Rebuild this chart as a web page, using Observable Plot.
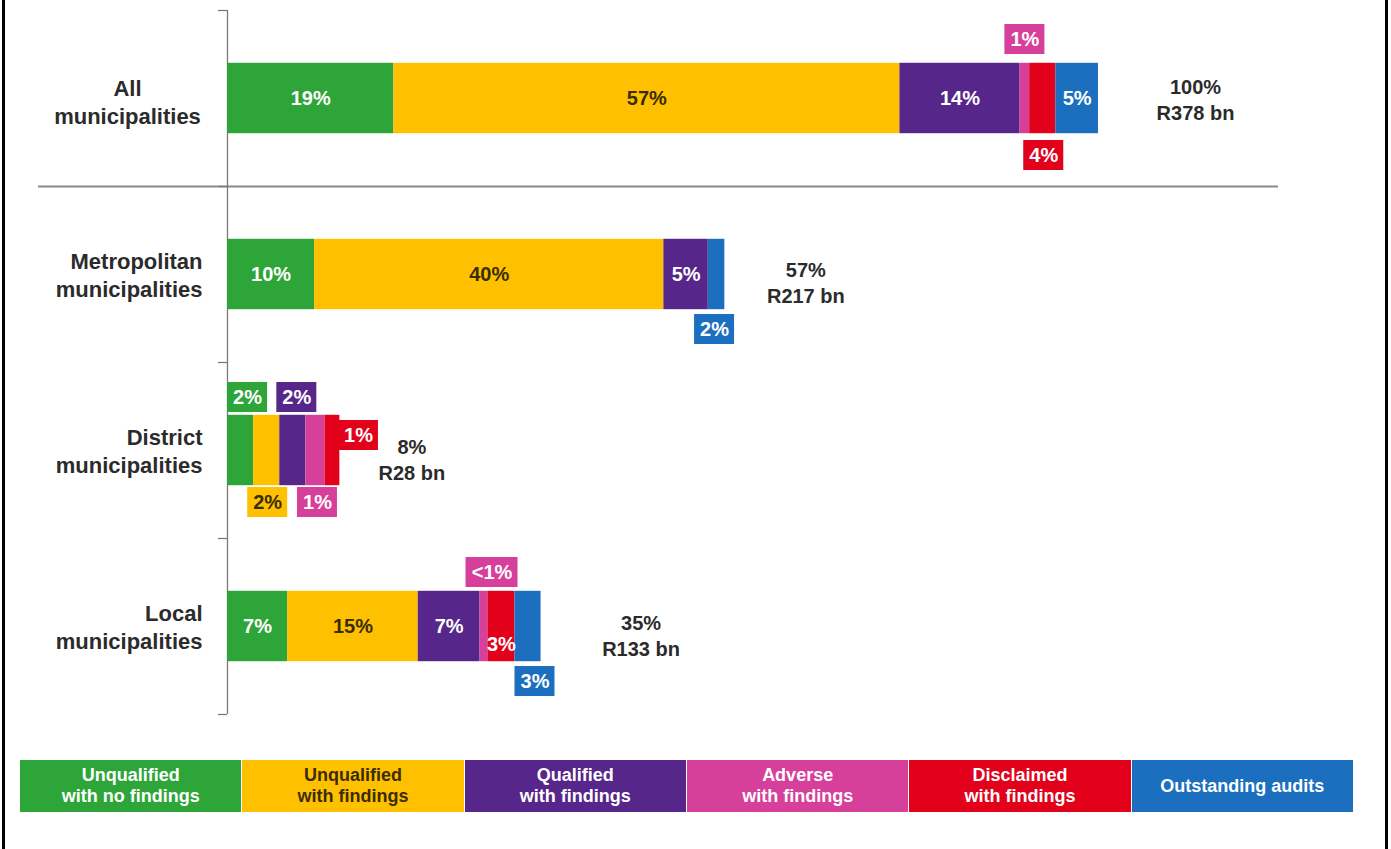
<!DOCTYPE html>
<html><head><meta charset="utf-8">
<script src="https://cdn.jsdelivr.net/npm/d3@7"></script>
<script src="https://cdn.jsdelivr.net/npm/@observablehq/plot@0.6"></script>
<style>
body{margin:0;background:#fff;font-family:"Liberation Sans",Arial,sans-serif;}
#frame{position:absolute;left:2px;top:-5px;width:1386px;height:870px;border-left:3px solid #000;border-right:3px solid #000;box-sizing:border-box;pointer-events:none;}
#chart{position:absolute;left:0;top:0;}
#legend{position:absolute;left:20px;top:760px;width:1333px;height:52px;display:flex;gap:1px;}
.item{flex:1;display:flex;align-items:center;justify-content:center;text-align:center;font-weight:bold;font-size:18px;line-height:21px;color:#fff;}
</style></head><body>
<div id="frame"></div>
<div id="chart"></div>
<div id="legend"></div>
<script>
// ---- data ----
const categories = ["All municipalities", "Metropolitan municipalities", "District municipalities", "Local municipalities"];
const outcomes = ["Unqualified with no findings", "Unqualified with findings", "Qualified with findings", "Adverse with findings", "Disclaimed with findings", "Outstanding audits"];
const outcomeLines = [["Unqualified","with no findings"],["Unqualified","with findings"],["Qualified","with findings"],["Adverse","with findings"],["Disclaimed","with findings"],["Outstanding audits"]];
const colors = ["#2da539", "#ffc000", "#57268a", "#d6409a", "#e2001a", "#1b6fbe"];
const allValues      = [19.1, 58.1, 13.8, 1.1, 3.0, 4.9];
const metroValues    = [10.0, 40.1, 5.1, 0, 0, 1.9];
const districtValues = [3.0, 3.0, 3.0, 2.2, 1.7, 0];
const localValues    = [6.9, 15.0, 7.1, 0.9, 3.1, 3.0];
const allLabels      = ["19%", "57%", "14%", "1%", "4%", "5%"];
const metroLabels    = ["10%", "40%", "5%", "", "", "2%"];
const districtLabels = ["2%", "2%", "2%", "1%", "1%", ""];
const localLabels    = ["7%", "15%", "7%", "<1%", "3%", "3%"];
const totalPercents  = ["100%", "57%", "8%", "35%"];
const totalRands     = ["R378 bn", "R217 bn", "R28 bn", "R133 bn"];

// ---- layout / style ----
const W = 1391, H = 740, ML = 227, MR = 293, MT = 10, MB = 26;
const kx = (W - ML - MR) / 100;          // px per percent
const ky = (H - MT - MB) / 4;            // px per row
const darkText = "#2b2b2b";
const textOn = i => (i === 1 ? "#3a2e00" : "#ffffff");
// callouts: [row, outcome, dx px, dy px, box width]
const callouts = [
  [0, 3, 0, -59, 40], [0, 4, 1, 57, 40],
  [1, 5, -2, 55, 40],
  [2, 0, 7, -53, 40], [2, 2, 4, -53, 40], [2, 4, 26, -15, 40], [2, 1, 1, 52, 40], [2, 3, 2, 52, 40],
  [3, 3, 8, -54, 52], [3, 5, 7, 55, 40]
];
const inlow = [[3, 4, 18]];
const totalDx = [97, 81, 72, 100];
const totalDy = [0, 7, 8, 8];

// ---- build table ----
const rowValues = [allValues, metroValues, districtValues, localValues];
const rowLabels = [allLabels, metroLabels, districtLabels, localLabels];
const segments = [];
rowValues.forEach((vals, r) => {
  let acc = 0;
  vals.forEach((v, i) => {
    if (v > 0) segments.push({row: r, i, x1: acc, x2: acc + v, mid: acc + v / 2, label: rowLabels[r][i]});
    acc += v;
  });
});
const seg = (r, i) => segments.find(s => s.row === r && s.i === i);
const isCallout = s => callouts.some(c => c[0] === s.row && c[1] === s.i);
const lowMap = new Map(inlow.map(d => [d[0] + "-" + d[1], d[2]]));
const inside = segments.filter(s => s.label && !isCallout(s)).map(s => ({...s, y: s.row + (lowMap.get(s.row + "-" + s.i) || 0) / ky}));
const boxes = callouts.map(([r, i, dx, dy, w]) => {
  const s = seg(r, i);
  const cx = s.mid + dx / kx, cy = r + dy / ky;
  return {i, label: s.label, cx, cy, x1: cx - w / 2 / kx, x2: cx + w / 2 / kx, y1: cy - 15 / ky, y2: cy + 15 / ky};
});
const totals = rowValues.map((vals, r) => ({r, x: d3.sum(vals) + totalDx[r] / kx, y: r + totalDy[r] / ky, text: totalPercents[r] + "\n" + totalRands[r]}));
const cats = categories.map((c, r) => ({r, text: c.replace(" ", "\n")}));

const chart = Plot.plot({
  width: W, height: H,
  marginLeft: ML, marginRight: MR, marginTop: MT, marginBottom: MB,
  x: {domain: [0, 100], axis: null},
  y: {domain: [-0.5, 3.5], range: [MT, H - MB], axis: null},
  style: {fontFamily: "'Liberation Sans', Arial, sans-serif", overflow: "visible", background: "transparent"},
  marks: [
    Plot.ruleY([0.5], {x1: (38 - ML) / kx, x2: (1278 - ML) / kx, stroke: "#8a8a8a", strokeWidth: 2}),
    Plot.ruleX([0], {y1: -0.5, y2: 3.5, stroke: "#7a7a7a", strokeWidth: 1.3}),
    Plot.ruleY([-0.5, 0.5, 1.5, 2.5, 3.5], {x1: -9 / kx, x2: 0, stroke: "#7a7a7a", strokeWidth: 1.3}),
    Plot.rect(segments, {x1: "x1", x2: "x2", y1: d => d.row - 0.2, y2: d => d.row + 0.2, fill: d => colors[d.i]}),
    Plot.text(inside, {x: "mid", y: "y", text: "label", fill: d => textOn(d.i), fontSize: 20, fontWeight: "bold"}),
    Plot.rect(boxes, {x1: "x1", x2: "x2", y1: "y1", y2: "y2", fill: d => colors[d.i]}),
    Plot.text(boxes, {x: "cx", y: "cy", text: "label", fill: d => textOn(d.i), fontSize: 20, fontWeight: "bold"}),
    Plot.text(totals, {x: "x", y: "y", text: "text", fill: darkText, fontSize: 20, fontWeight: "bold", lineHeight: 1.3}),
    Plot.text(cats.filter(d => d.r > 0), {x: 0, y: "r", text: "text", dx: -25, textAnchor: "end", fill: darkText, fontSize: 22, fontWeight: "bold", lineHeight: 1.27}),
    Plot.text(cats.filter(d => d.r === 0), {x: (127 - ML) / kx, y: "r", text: "text", dy: 3, textAnchor: "middle", fill: darkText, fontSize: 22, fontWeight: "bold", lineHeight: 1.27})
  ]
});
document.getElementById("chart").appendChild(chart);

const legend = document.getElementById("legend");
outcomes.forEach((o, i) => {
  const div = document.createElement("div");
  div.className = "item";
  div.style.background = colors[i];
  div.style.color = textOn(i);
  div.title = o;
  div.innerHTML = outcomeLines[i].join("<br>");
  legend.appendChild(div);
});
</script>
</body></html>
